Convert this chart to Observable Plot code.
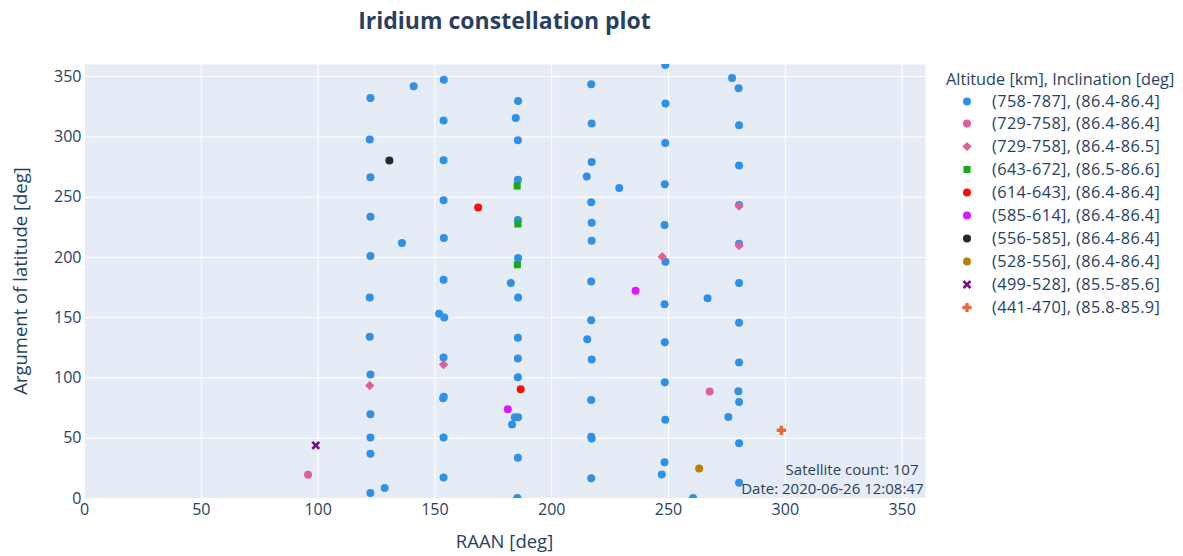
<!DOCTYPE html>
<html><head><meta charset="utf-8">
<script src="https://cdn.jsdelivr.net/npm/d3@7"></script>
<script src="https://cdn.jsdelivr.net/npm/@observablehq/plot@0.6"></script>
<style>
body{margin:0;background:#fff;}
#root{position:relative;width:1183px;height:556px;font-family:"Open Sans",sans-serif;color:#2a3f5f;overflow:hidden;background:#fff}
#title{position:absolute;left:84px;width:841px;top:4px;text-align:center;font-size:23px;font-weight:bold;line-height:32px}
#xtitle{position:absolute;left:84px;width:841px;top:528px;text-align:center;font-size:18.5px;line-height:26px}
#ytitle{position:absolute;left:20px;top:281px;transform:translate(-50%,-50%) rotate(-90deg);white-space:nowrap;font-size:18.5px;line-height:26px}
#chart{position:absolute;left:0;top:0}
#legend{position:absolute;left:946px;top:66px;font-size:16.3px}
.lt{position:absolute;left:0;top:0;white-space:nowrap;line-height:26px}
.row{position:absolute;left:0;height:23px;white-space:nowrap;line-height:23px}
.row svg{position:absolute;left:10px;top:0}
.row span{position:absolute;left:46px;top:0;letter-spacing:0.4px}
</style></head><body>
<div id="root">
  <div id="title">Iridium constellation plot</div>
  <div id="chart"></div>
  <div id="xtitle">RAAN [deg]</div>
  <div id="ytitle">Argument of latitude [deg]</div>
  <div id="legend"></div>
</div>
<script>
// ---- data ----
const xTicks = [0, 50, 100, 150, 200, 250, 300, 350];
const yTicks = [0, 50, 100, 150, 200, 250, 300, 350];
const legendTitle = "Altitude [km], Inclination [deg]";
const groupLabels = [
  "(758-787], (86.4-86.4]",
  "(729-758], (86.4-86.4]",
  "(729-758], (86.4-86.5]",
  "(643-672], (86.5-86.6]",
  "(614-643], (86.4-86.4]",
  "(585-614], (86.4-86.4]",
  "(556-585], (86.4-86.4]",
  "(528-556], (86.4-86.4]",
  "(499-528], (85.5-85.6]",
  "(441-470], (85.8-85.9]"
];
const groupColors = ["#2E91E5","#E15F99","#E15F99","#1CA71C","#FB0D0D","#DA16FF","#222A2A","#B68100","#750D86","#EB663B"];
const groupSymbols = ["circle","circle","diamond","square","circle","circle","circle","circle","x","cross"];

// [RAAN, argument of latitude]
const g758_787 = [
  [140.9,342.0],[153.8,347.3],[122.4,332.3],[185.6,329.8],[184.6,315.7],[153.7,313.5],[122.1,297.7],[185.5,297.2],
  [153.7,280.6],[122.4,266.4],[185.5,264.5],[153.7,247.3],[122.4,233.8],[185.5,231.0],[135.9,211.9],[153.8,216.0],
  [122.4,201.1],[185.6,199.4],[153.7,181.5],[182.5,178.7],
  [122.1,166.8],[185.6,166.8],[151.8,153.2],[154.0,150.2],[122.1,134.1],[185.5,133.3],[153.7,116.9],[185.5,116.1],
  [122.4,102.8],[185.5,100.6],[153.8,84.5],[153.5,83.2],[184.2,67.4],[185.6,67.4],[183.0,61.3],[122.4,69.9],
  [122.4,50.5],[153.7,50.5],[122.4,37.2],[185.5,33.9],[153.7,17.5],[128.5,8.7],[122.4,4.5],[185.3,0.4],
  [248.6,359.5],[277.2,348.9],[216.9,343.7],[280.0,340.4],[248.7,327.6],[217.1,311.0],[280.2,309.6],[248.6,294.9],
  [217.1,279.2],[280.2,276.2],[215.0,267.0],[228.9,257.6],[248.4,260.6],[216.9,245.7],[280.2,243.4],[217.1,228.8],
  [248.3,226.8],[217.1,213.9],[280.2,211.4],[248.7,196.4],[216.9,180.1],[280.2,178.7],
  [266.7,166.2],[248.3,161.2],[216.9,147.9],[280.2,145.8],[215.2,132.2],[248.4,129.7],[217.1,115.3],[280.2,112.8],
  [248.4,96.4],[279.9,89.0],[280.2,80.1],[216.9,81.8],[275.6,67.7],[248.6,65.4],[216.9,51.3],[217.1,49.7],
  [280.2,45.8],[248.3,30.0],[247.1,20.0],[216.9,16.7],[280.2,13.1],[260.5,0.4]
];
const g729_758a = [[95.7,19.8],[267.6,88.7]];
const g729_758b = [[153.7,111.1],[122.1,93.7],[280.2,242.6],[280.2,209.7],[247.3,200.6]];
const g643_672 = [[185.2,259.2],[185.5,227.7],[185.3,193.9]];
const g614_643 = [[168.5,241.3],[186.7,90.6]];
const g585_614 = [[181.2,74.0],[235.9,172.3]];
const g556_585 = [[130.5,280.3]];
const g528_556 = [[263.1,24.8]];
const g499_528 = [[99.0,44.1]];
const g441_470 = [[298.3,56.6]];
const groupData = [g758_787,g729_758a,g729_758b,g643_672,g614_643,g585_614,g556_585,g528_556,g499_528,g441_470];
const annotationLines = ["Satellite count: 107", "Date: 2020-06-26 12:08:47"];

// ---- symbols ----
const diamondSym = {draw(ctx, size){ const h = Math.sqrt(size/Math.PI)*1.1; ctx.moveTo(0,-h); ctx.lineTo(h,0); ctx.lineTo(0,h); ctx.lineTo(-h,0); ctx.closePath(); }};
const xSym = {draw(ctx, size){
  const r = Math.sqrt(size/Math.PI)*1.05, w = r*0.42;
  const pts = [[0,-w],[r-w,-r],[r,-r+w],[w,0],[r,r-w],[r-w,r],[0,w],[-r+w,r],[-r,r-w],[-w,0],[-r,-r+w],[-r+w,-r]];
  ctx.moveTo(pts[0][0],pts[0][1]); for (const p of pts.slice(1)) ctx.lineTo(p[0],p[1]); ctx.closePath();
}};
const crossSym = {draw(ctx, size){
  const r = Math.sqrt(size/Math.PI)*1.1, w = r*0.36;
  const pts = [[-w,-r],[w,-r],[w,-w],[r,-w],[r,w],[w,w],[w,r],[-w,r],[-w,w],[-r,w],[-r,-w],[-w,-w]];
  ctx.moveTo(pts[0][0],pts[0][1]); for (const p of pts.slice(1)) ctx.lineTo(p[0],p[1]); ctx.closePath();
}};
function symFor(name){
  if (name === "diamond") return diamondSym;
  if (name === "x") return xSym;
  if (name === "cross") return crossSym;
  return name;
}
const symR = {circle:4, square:4, diamond:4.2, x:4.2, cross:4.2};

// ---- chart ----
const marks = [
  Plot.frame({fill:"#E5ECF6", stroke:null}),
  Plot.gridX(xTicks, {stroke:"#ffffff", strokeOpacity:1, strokeWidth:1}),
  Plot.gridY(yTicks, {stroke:"#ffffff", strokeOpacity:1, strokeWidth:1}),
  Plot.axisX(xTicks, {tickSize:0, tickPadding:5.5, fontSize:16, color:"#2a3f5f", label:null, tickFormat:d=>String(d)}),
  Plot.axisY(yTicks, {tickSize:0, tickPadding:3, fontSize:16, color:"#2a3f5f", label:null, tickFormat:d=>String(d)})
];
groupData.forEach((data, i) => {
  marks.push(Plot.dot(data, {
    x: d => d[0], y: d => d[1],
    r: symR[groupSymbols[i]],
    symbol: symFor(groupSymbols[i]),
    fill: groupColors[i], stroke: "none",
    clip: true
  }));
});
marks.push(Plot.text([annotationLines[0]], {text:d=>d, frameAnchor:"bottom-right", dx:-7, dy:-28.5, lineAnchor:"middle", fontSize:15, fill:"#2a3f5f", fontFamily:"Open Sans"}));
marks.push(Plot.text([annotationLines[1]], {text:d=>d, frameAnchor:"bottom-right", dx:-2, dy:-9.5, lineAnchor:"middle", fontSize:15, fill:"#2a3f5f", fontFamily:"Open Sans"}));

const chart = Plot.plot({
  width: 940, height: 556,
  marginLeft: 84, marginRight: 15, marginTop: 64, marginBottom: 58,
  x: {domain:[0,360]},
  y: {domain:[0,360]},
  style: {fontFamily:"Open Sans", background:"transparent", overflow:"visible"},
  marks
});
document.getElementById("chart").appendChild(chart);

// ---- legend ----
const legend = document.getElementById("legend");
const lt = document.createElement("div"); lt.className = "lt"; lt.textContent = legendTitle; legend.appendChild(lt);
groupLabels.forEach((lab, i) => {
  const row = document.createElement("div"); row.className = "row";
  row.style.top = (23.5 + 22.9*i) + "px";
  const svg = d3.create("svg").attr("width", 22).attr("height", 23);
  const name = groupSymbols[i];
  const type = name === "circle" ? d3.symbolCircle : name === "square" ? d3.symbolSquare : symFor(name);
  const r = symR[name];
  svg.append("path").attr("transform","translate(11,11.5)").attr("d", d3.symbol(type, Math.PI*r*r)()).attr("fill", groupColors[i]);
  row.appendChild(svg.node());
  const sp = document.createElement("span"); sp.textContent = lab; row.appendChild(sp);
  legend.appendChild(row);
});
</script>
</body></html>
